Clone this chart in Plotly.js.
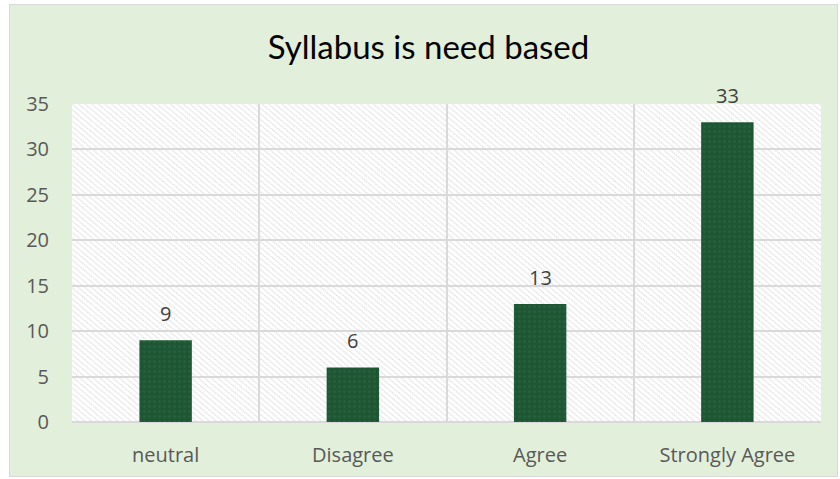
<!DOCTYPE html>
<html><head><meta charset="utf-8">
<script src="https://cdn.plot.ly/plotly-3.0.1.min.js"></script>
<style>
html,body{margin:0;padding:0;background:#ffffff;}
#wrap{position:absolute;left:9px;top:4px;width:829px;height:473px;border:1px solid #d9d9d9;box-sizing:border-box;}
#chart{width:827px;height:471px;}
</style></head>
<body><div id="wrap"><div id="chart"></div></div>
<script>
const categories = ["neutral", "Disagree", "Agree", "Strongly Agree"];
const values = [9, 6, 13, 33];
const yTicks = [0, 5, 10, 15, 20, 25, 30, 35];
const chartTitle = "Syllabus is need based";

const hatchSvg = '<svg xmlns="http://www.w3.org/2000/svg" width="800" height="400" preserveAspectRatio="none">' +
  '<defs><pattern id="p" width="7" height="7" patternUnits="userSpaceOnUse">' +
  '<rect width="7" height="7" fill="#ffffff"/>' +
  '<path d="M-1,-1 L8,8 M-1,6 L1,8 M6,-1 L8,1" stroke="#d6d6d6" stroke-width="1.4" stroke-dasharray="1.4,1"/>' +
  '</pattern></defs><rect width="800" height="400" fill="url(#p)"/></svg>';
const hatchUri = 'data:image/svg+xml;base64,' + btoa(hatchSvg);

const labelFont = {family: '"Open Sans", sans-serif', size: 20, color: '#404040'};

const trace = {
  type: 'bar',
  x: categories,
  y: values,
  width: 0.28,
  marker: {
    color: '#1e5634',
    pattern: {shape: '.', fgcolor: '#24603c', bgcolor: '#1e5634', size: 5, solidity: 0.3}
  },
  hoverinfo: 'x+y'
};

const annotations = categories.map((c, i) => ({
  x: c, y: values[i], xref: 'x', yref: 'y', text: String(values[i]),
  showarrow: false, yanchor: 'bottom', xanchor: 'center', yshift: 11,
  font: labelFont
}));

const layout = {
  width: 827, height: 471,
  margin: {l: 62, r: 16, t: 99, b: 54},
  paper_bgcolor: '#e2efda',
  plot_bgcolor: 'rgba(0,0,0,0)',
  showlegend: false,
  title: {text: chartTitle, x: 0.506, xanchor: 'center', yref: 'container', y: 0.91, yanchor: 'middle',
          font: {family: 'Lato, sans-serif', size: 33, color: '#000000'}},
  xaxis: {
    type: 'category',
    tickson: 'boundaries',
    showgrid: true, gridcolor: '#d9d9d9', gridwidth: 2,
    showline: false, zeroline: false, ticks: '',
    tickfont: {family: '"Open Sans", sans-serif', size: 20, color: '#595959'},
    ticklabelstandoff: 19
  },
  yaxis: {
    range: [0, 35], tickvals: yTicks, ticktext: yTicks.map(String),
    showgrid: true, gridcolor: '#d9d9d9', gridwidth: 2,
    zeroline: true, zerolinecolor: '#d9d9d9', zerolinewidth: 2,
    showline: false, ticks: '',
    tickfont: {family: '"Open Sans", sans-serif', size: 20, color: '#595959'},
    ticklabelstandoff: 22
  },
  annotations: annotations,
  images: [{
    source: hatchUri, xref: 'paper', yref: 'paper', x: 0, y: 1, sizex: 1, sizey: 1,
    xanchor: 'left', yanchor: 'top', sizing: 'stretch', layer: 'below'
  }]
};

Plotly.newPlot('chart', [trace], layout, {displayModeBar: false, staticPlot: true});
</script></body></html>
